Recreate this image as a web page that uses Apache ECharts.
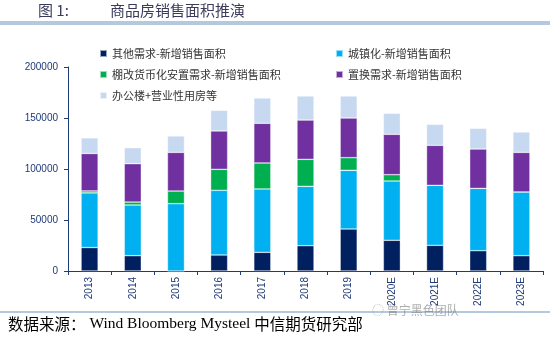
<!DOCTYPE html>
<html>
<head>
<meta charset="utf-8">
<script src="https://cdn.jsdelivr.net/npm/echarts@6/dist/echarts.min.js"></script>
<style>
  html, body { margin: 0; padding: 0; background: #fff; }
  #main { width: 550px; height: 339px; }
</style>
</head>
<body>
<div id="main"></div>
<script>
// categories (years, E = estimate)
var years = ['2013', '2014', '2015', '2016', '2017', '2018', '2019', '2020E', '2021E', '2022E', '2023E'];

// stacked components, square metres
var otherDemand   = [23000, 15000,     0, 15700, 18300, 24800, 41200, 30100, 25200, 19900, 15000];
var urbanization  = [53600, 49700, 66000, 63400, 62100, 58200, 57500, 58100, 58800, 61100, 62500];
var shantyReform  = [ 1900,  2900, 12400, 20600, 25500, 26500, 12400,  6200,     0,     0,     0];
var upgradeDemand = [36700, 37600, 37900, 37600, 38900, 38500, 38900, 39600, 39200, 38600, 38800];
var officeEtc     = [15300, 15700, 16100, 20200, 24800, 23600, 21600, 20600, 20600, 20300, 20000];

var yTicks = [0, 50000, 100000, 150000, 200000];

var names = ['其他需求-新增销售面积', '城镇化-新增销售面积', '棚改货币化安置需求-新增销售面积', '置换需求-新增销售面积', '办公楼+营业性用房等'];
var colors = ['#002060', '#00b0f0', '#00b050', '#7030a0', '#c6d9f1'];
var seriesData = [otherDemand, urbanization, shantyReform, upgradeDemand, officeEtc];

var axisColor = '#1f3a78';
var cjk = '"Noto Sans CJK SC", "Noto Sans", sans-serif';

var chart = echarts.init(document.getElementById('main'));

var series = [];
for (var i = 0; i < names.length; i++) {
    series.push({
        name: names[i],
        type: 'bar',
        stack: 'area',
        barWidth: 17,
        data: seriesData[i],
        itemStyle: { color: colors[i], borderColor: 'rgba(255,255,255,0.6)', borderWidth: 0.6 }
    });
}

var legendText = { fontFamily: cjk, fontSize: 11, color: '#333' };

var option = {
    animation: false,
    backgroundColor: '#fff',
    grid: { left: 68, right: 7, top: 67, bottom: 68 },
    legend: [
        {
            orient: 'vertical', left: 94, top: 43, itemWidth: 7, itemHeight: 7, itemGap: 10,
            icon: 'rect', textStyle: legendText,
            data: [names[0], names[2], names[4]]
        },
        {
            orient: 'vertical', left: 330, top: 43, itemWidth: 7, itemHeight: 7, itemGap: 10,
            icon: 'rect', textStyle: legendText,
            data: [names[1], names[3]]
        }
    ],
    xAxis: {
        type: 'category',
        data: years,
        axisLine: { lineStyle: { color: axisColor, width: 1 } },
        axisTick: { show: true, length: 4, lineStyle: { color: axisColor } },
        axisLabel: { rotate: 90, color: axisColor, fontSize: 10, fontFamily: 'Liberation Sans, Arial', margin: 6 }
    },
    yAxis: {
        type: 'value',
        min: yTicks[0],
        max: yTicks[yTicks.length - 1],
        interval: 50000,
        splitLine: { show: false },
        axisLine: { show: true, lineStyle: { color: axisColor, width: 1 } },
        axisTick: { show: true, length: 4, lineStyle: { color: axisColor } },
        axisLabel: {
            color: axisColor, fontSize: 10, fontFamily: 'Liberation Sans, Arial', margin: 10,
            formatter: function (v) { return String(v); }
        }
    },
    graphic: [
        {
            type: 'text', left: 38, top: 3,
            style: { text: '图 1:', font: '15px ' + cjk, fill: '#3a3a5a' }
        },
        {
            type: 'text', left: 110, top: 3,
            style: { text: '商品房销售面积推演', font: '15px ' + cjk, fill: '#3a3a5a' }
        },
        {
            type: 'rect', left: 0, top: 21,
            shape: { width: 550, height: 4 },
            style: { fill: '#b4c8de' }
        },
        {
            type: 'rect', left: 0, top: 311,
            shape: { width: 550, height: 2 },
            style: { fill: '#b4c8de' }
        },
        {
            type: 'text', left: 372, top: 304,
            style: { text: '◌ 曾宁黑色团队', font: '12px ' + cjk, fill: 'rgba(120,120,120,0.6)' }
        },
        {
            type: 'text', left: 8, top: 316,
            style: {
                text: '{a|数据来源：}{b| Wind Bloomberg Mysteel }{a|中信期货研究部}',
                rich: {
                    a: { font: '15.5px ' + cjk, color: '#1a1a50' },
                    b: { font: '15.5px "Liberation Serif", "Times New Roman", serif', color: '#1a1a50' }
                }
            }
        }
    ],
    series: series
};

chart.setOption(option);
</script>
</body>
</html>
